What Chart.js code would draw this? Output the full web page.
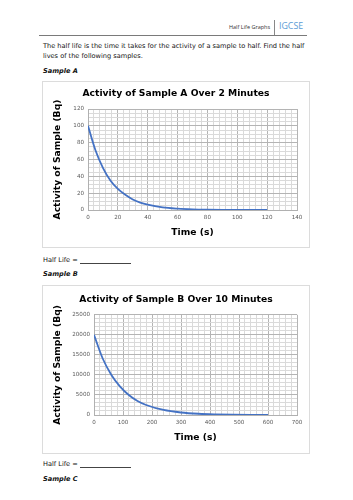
<!DOCTYPE html>
<html>
<head>
<meta charset="utf-8">
<script src="https://cdn.jsdelivr.net/npm/chart.js@4/dist/chart.umd.min.js"></script>
<style>
  html, body { margin: 0; padding: 0; background: #fff; }
  body { width: 353px; height: 500px; position: relative; overflow: hidden; font-family: "DejaVu Sans", sans-serif; color: #111; }
  .abs { position: absolute; white-space: nowrap; }
  .hdr { font-family: "Open Sans", sans-serif; font-size: 5.5px; color: #333; }
  .igcse { font-family: "Open Sans", sans-serif; font-size: 8.8px; color: #5B9BD5; }
  .body { font-size: 6.6px; line-height: 10px; }
  .samp { font-size: 6.6px; font-weight: bold; font-style: italic; }
  .box { position: absolute; border: 1px solid #dcdcdc; box-sizing: border-box; background: #fff; }
  .uline { position: absolute; height: 0; border-top: 1px solid #444; }
</style>
</head>
<body>
<div class="abs hdr" style="left:229px; top:23px;">Half Life Graphs</div>
<div class="abs" style="left:274px; top:20px; width:1px; height:15px; background:#888;"></div>
<div class="abs igcse" style="left:279px; top:20px;">IGCSE</div>
<div class="abs" style="left:39px; top:35px; width:268px; height:1px; background:#7a7a7a;"></div>

<div class="abs body" style="left:43px; top:41px;">The half life is the time it takes for the activity of a sample to half. Find the half<br>lives of the following samples.</div>
<div class="abs samp" style="left:43px; top:67px;">Sample A</div>

<div class="box" style="left:42px; top:81px; width:268px; height:167px;"><canvas id="chartA"></canvas></div>

<div class="abs body" style="left:43px; top:255px;">Half Life =</div>
<div class="uline" style="left:80px; top:263px; width:51px;"></div>
<div class="abs samp" style="left:43px; top:270px;">Sample B</div>

<div class="box" style="left:42px; top:285px; width:268px; height:169px;"><canvas id="chartB"></canvas></div>

<div class="abs body" style="left:43px; top:459px;">Half Life =</div>
<div class="uline" style="left:80px; top:467px; width:51px;"></div>
<div class="abs samp" style="left:43px; top:475px;">Sample C</div>

<script>
// ---- Data ----
const timeA = [0, 5, 10, 15, 20, 25, 30, 35, 40, 50, 60, 70, 80, 90, 100, 110, 120];
const activityA = [100, 71, 50, 35, 25, 18, 12.5, 8.8, 6.3, 3.1, 1.6, 0.8, 0.4, 0.2, 0.1, 0.05, 0.02];

const timeB = [0, 30, 60, 90, 120, 150, 180, 240, 300, 360, 420, 480, 540, 600];
const activityB = [20000, 14100, 10000, 7100, 5000, 3500, 2500, 1250, 625, 310, 160, 80, 40, 20];

const titleA = "Activity of Sample A Over 2 Minutes";
const titleB = "Activity of Sample B Over 10 Minutes";
const xTitle = "Time (s)";
const yTitle = "Activity of Sample (Bq)";

const FONT = "'DejaVu Sans', sans-serif";

// Center the chart title across the whole canvas (not just the padded area)
const centerTitle = {
  id: 'centerTitle',
  afterLayout(chart) {
    const t = chart.titleBlock;
    if (t) { t.left = 0; t.right = chart.width; t.width = chart.width; }
  }
};

function makeChart(id, times, values, title, ax, lay) {
  const ctx = document.getElementById(id);
  return new Chart(ctx, {
    type: 'line',
    data: {
      datasets: [{
        data: times.map((t, i) => ({ x: t, y: values[i] })),
        borderColor: '#4472C4',
        borderWidth: 1.8,
        pointRadius: 0,
        fill: false,
        cubicInterpolationMode: 'monotone'
      }]
    },
    plugins: [centerTitle],
    options: {
      responsive: true,
      maintainAspectRatio: false,
      animation: false,
      devicePixelRatio: 1,
      layout: { padding: { left: 0, right: lay.right, top: 0, bottom: 0 } },
      plugins: {
        legend: { display: false },
        tooltip: { enabled: false },
        title: {
          display: true,
          text: title,
          color: '#000',
          font: { family: FONT, size: 9.2, weight: 'bold' },
          padding: { top: lay.titleTop, bottom: lay.titleBottom }
        }
      },
      scales: {
        x: {
          type: 'linear',
          min: 0, max: ax.xMax,
          afterFit: s => { s.height = lay.xHeight; },
          border: { display: true, color: '#b0b0b0', width: 1 },
          grid: {
            drawTicks: false,
            lineWidth: 1,
            color: c => (c.tick && Math.abs(c.tick.value % ax.xMajor) < 1e-9) ? '#b4b4b4' : '#dadada'
          },
          ticks: {
            stepSize: ax.xMinor,
            autoSkip: false,
            maxRotation: 0,
            padding: 4,
            color: '#595959',
            font: { family: FONT, size: 5.6 },
            callback: v => (Math.abs(v % ax.xMajor) < 1e-9) ? String(v) : ''
          },
          title: {
            display: true,
            text: xTitle,
            color: '#000',
            font: { family: FONT, size: 9.2, weight: 'bold' },
            padding: { top: 0, bottom: lay.xTitlePad }
          }
        },
        y: {
          type: 'linear',
          min: 0, max: ax.yMax,
          afterFit: s => { s.width = lay.yWidth; },
          border: { display: true, color: '#b0b0b0', width: 1 },
          grid: {
            drawTicks: false,
            lineWidth: 1,
            color: c => (c.tick && Math.abs(c.tick.value % ax.yMajor) < 1e-9) ? '#b4b4b4' : '#dadada'
          },
          ticks: {
            stepSize: ax.yMinor,
            autoSkip: false,
            padding: 4,
            color: '#595959',
            font: { family: FONT, size: 5.6 },
            callback: v => (Math.abs(v % ax.yMajor) < 1e-9) ? String(v) : ''
          },
          title: {
            display: true,
            text: yTitle,
            color: '#000',
            font: { family: FONT, size: 9.2, weight: 'bold' },
            padding: { top: lay.yTitlePad, bottom: 0 }
          }
        }
      }
    }
  });
}

makeChart('chartA', timeA, activityA, titleA,
  { xMax: 140, xMajor: 20, xMinor: 4, yMax: 120, yMajor: 20, yMinor: 5 },
  { right: 12, titleTop: 6.5, titleBottom: 9.5, xHeight: 37, xTitlePad: 9, yWidth: 45, yTitlePad: 9.5 });

makeChart('chartB', timeB, activityB, titleB,
  { xMax: 700, xMajor: 100, xMinor: 20, yMax: 25000, yMajor: 5000, yMinor: 1000 },
  { right: 12, titleTop: 8.3, titleBottom: 9.5, xHeight: 38, xTitlePad: 10, yWidth: 51, yTitlePad: 9.5 });
</script>
</body>
</html>
